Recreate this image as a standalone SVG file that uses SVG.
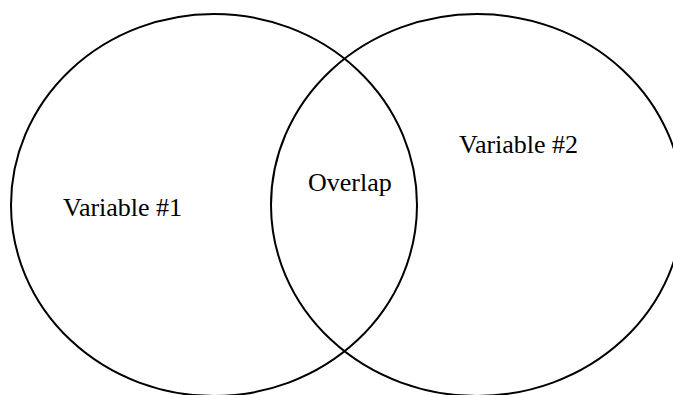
<svg xmlns="http://www.w3.org/2000/svg" width="673" height="395" viewBox="0 0 673 395">
<style>
.c{fill:none;stroke:#000;stroke-width:2}
.t{font-family:"Liberation Serif","Times New Roman",serif;font-size:26px;fill:#000}
</style>
<rect width="673" height="395" fill="#fff"/>
<g id="var1"><ellipse class="c" cx="214" cy="205" rx="203" ry="191"/><text class="t" x="63" y="216">Variable #1</text></g>
<g id="var2"><ellipse class="c" cx="477" cy="205" rx="206" ry="191"/><text class="t" x="459" y="153">Variable #2</text></g>
<g id="overlap"><text class="t" x="308" y="191">Overlap</text></g>
</svg>
